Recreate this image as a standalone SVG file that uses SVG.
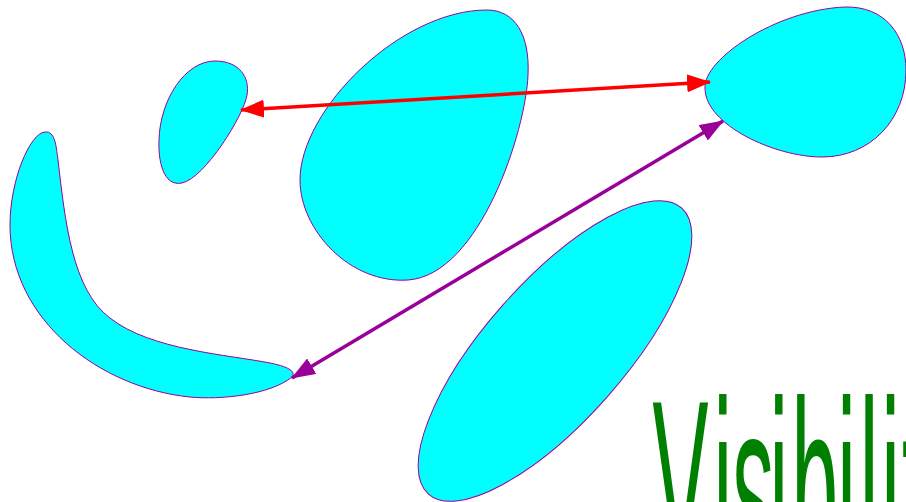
<svg xmlns="http://www.w3.org/2000/svg" width="906" height="502" viewBox="0 0 906 502">
<style>
.blob{fill:#00ffff;stroke:#990099;stroke-width:1}
.red{stroke:#ff0000;stroke-width:3.5;fill:none}
.pur{stroke:#990099;stroke-width:3.5;fill:none}
.lbl{font-family:"Liberation Sans",Arial,sans-serif;fill:#008000}
</style>
<defs>
<marker id="mr" viewBox="0 0 24 18" refX="23" refY="9" markerWidth="24" markerHeight="18" markerUnits="userSpaceOnUse" orient="auto-start-reverse">
<path d="M0,0 L24,9 L0,18 Z" fill="#ff0000"/>
</marker>
<marker id="mp" viewBox="0 0 24 18" refX="23" refY="9" markerWidth="24" markerHeight="18" markerUnits="userSpaceOnUse" orient="auto-start-reverse">
<path d="M0,0 L24,9 L0,18 Z" fill="#990099"/>
</marker>
</defs>
<g id="blob-small">
<path class="blob" d="M215,61 C240,61 250,78 247,95 C244,115 205,178 182,183 C163,187 158,160 159,140 C160,100 185,61 215,61 Z"/>
</g>
<g id="blob-teardrop">
<path class="blob" d="M487,10 C515,10 530,35 528,75 C526,130 480,275 408,280 C350,284 300,230 300,180 C300,110 400,10 487,10 Z"/>
</g>
<g id="blob-topright">
<path class="blob" d="M705,88 C703,60 775,10 845,7 C885,6 906,35 906,70 C906,120 870,157 822,157 C775,157 705,125 705,88 Z"/>
</g>
<g id="blob-crescent">
<path class="blob" d="M45,132 C55,131 56,145 58,160 C65,220 72,290 110,318 C150,350 230,355 270,363 C290,367 296,372 292,377 C270,395 220,400 190,397 C100,388 10,320 10,225 C10,180 30,133 45,132 Z"/>
</g>
<g id="blob-ellipse">
<ellipse class="blob" cx="555" cy="351" rx="191" ry="69.5" transform="rotate(-48.5 555 351)"/>
</g>
<g id="connectors">
<line class="red" x1="241" y1="110" x2="710" y2="82" marker-start="url(#mr)" marker-end="url(#mr)"/>
<line class="pur" x1="292" y1="378" x2="723" y2="121" marker-start="url(#mp)" marker-end="url(#mp)"/>
</g>
<g id="label">
<text class="lbl" font-size="244" transform="scale(0.344,1)" x="1896.5 2073.8 2129 2236.6 2301 2434 2499 2562 2622" y="570">Visibilit</text>
</g>
</svg>
